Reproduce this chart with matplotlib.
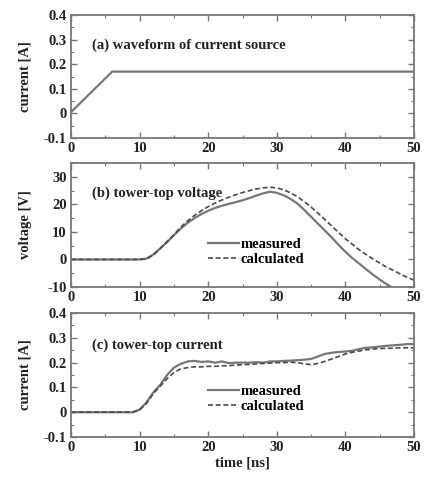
import matplotlib
matplotlib.use("Agg")
import matplotlib.pyplot as plt
import numpy as np
from matplotlib.ticker import MultipleLocator

plt.rcParams["font.family"] = ["Liberation Serif", "DejaVu Serif"]
plt.rcParams["font.weight"] = "bold"
plt.rcParams["axes.labelweight"] = "bold"
plt.rcParams["axes.unicode_minus"] = False
plt.rcParams["font.size"] = 10.5

# (a) source waveform
src_t = [0, 6, 50]
src_i = [0.005, 0.17, 0.17]

# (b) tower-top voltage, 1 ns steps
t_b = np.arange(0, 51, 1)
v_meas = [0, 0, 0, 0, 0, 0, 0, 0, 0, 0, 0, 0.3, 1.8, 4, 6.3, 8.8, 11.2, 13.3, 15, 16.5,
          17.7, 18.7, 19.5, 20.2, 20.8, 21.5, 22.3, 23.2, 24.0, 24.6, 24.2, 23.3, 22.0,
          20.3, 18, 15.5, 13, 10.5, 8, 5.3, 2.8, 0.5, -1.5, -3.5, -5.5, -7.3, -9, -10.5,
          -12, -13.5, -15]
v_calc = [0, 0, 0, 0, 0, 0, 0, 0, 0, 0, 0, 0.2, 1.6, 4, 6.5, 9, 11.8, 14, 16, 17.7,
          19.2, 20.5, 21.6, 22.6, 23.5, 24.3, 25.0, 25.6, 26.0, 26.2, 26.0, 25.3, 24.2,
          22.8, 21, 19, 16.8, 14.5, 12.2, 9.8, 7.5, 5.5, 3.5, 1.8, 0.2, -1.3, -2.8, -4,
          -5.3, -6.5, -7.5]

# (c) tower-top current, 1 ns steps
t_c = np.arange(0, 51, 1)
i_meas = [0, 0, 0, 0, 0, 0, 0, 0, 0, 0, 0.01, 0.04, 0.08, 0.11, 0.15, 0.18, 0.195,
          0.205, 0.207, 0.203, 0.205, 0.2, 0.205, 0.198, 0.2, 0.2, 0.2, 0.202, 0.2,
          0.205, 0.205, 0.207, 0.208, 0.21, 0.212, 0.215, 0.225, 0.235, 0.24, 0.243,
          0.245, 0.248, 0.255, 0.26, 0.262, 0.265, 0.268, 0.27, 0.272, 0.275, 0.275]
i_calc = [0, 0, 0, 0, 0, 0, 0, 0, 0, 0, 0.01, 0.035, 0.075, 0.105, 0.135, 0.16, 0.175,
          0.18, 0.183, 0.183, 0.185, 0.185, 0.187, 0.188, 0.19, 0.192, 0.193, 0.195,
          0.197, 0.198, 0.2, 0.2, 0.202, 0.2, 0.195, 0.192, 0.197, 0.205, 0.215, 0.225,
          0.235, 0.242, 0.247, 0.252, 0.255, 0.257, 0.258, 0.258, 0.26, 0.26, 0.26]

gray = "#777777"
dark = "#4a4a4a"
txt = "#222222"

fig = plt.figure(figsize=(4.24, 4.82), dpi=100)
ax_a = fig.add_axes([0.1675, 0.7137, 0.809, 0.255])
ax_b = fig.add_axes([0.1675, 0.4046, 0.809, 0.257])
ax_c = fig.add_axes([0.1675, 0.0934, 0.809, 0.257])


def style(ax, ymaj, ymin):
    ax.set_xlim(0, 50)
    ax.xaxis.set_major_locator(MultipleLocator(10))
    ax.xaxis.set_minor_locator(MultipleLocator(5))
    ax.yaxis.set_major_locator(MultipleLocator(ymaj))
    ax.yaxis.set_minor_locator(MultipleLocator(ymin))
    ax.tick_params(which="both", direction="in", top=True, right=True,
                   color=gray, labelcolor=txt, labelsize=10.5, pad=3)
    ax.tick_params(which="major", length=4, width=1)
    ax.tick_params(which="minor", length=2, width=0.8)
    for s in ax.spines.values():
        s.set_color(gray)
        s.set_linewidth(1.3)
    ax.yaxis.set_label_coords(-0.115, 0.5)


ax_a.plot(src_t, src_i, color=gray, lw=1.6)
ax_a.set_ylim(-0.1, 0.4)
style(ax_a, 0.1, 0.05)
ax_a.set_yticks([-0.1, 0, 0.1, 0.2, 0.3, 0.4])
ax_a.set_yticklabels(["-0.1", "0", "0.1", "0.2", "0.3", "0.4"])
ax_a.set_ylabel("current [A]", color=txt)
ax_a.text(0.06, 0.755, "(a) waveform of current source", transform=ax_a.transAxes,
          va="center", color=txt)

ax_b.plot(t_b, v_meas, color=gray, lw=1.6, label="measured")
ax_b.plot(t_b, v_calc, color=dark, lw=1.2, ls=(0, (3, 1.6)), label="calculated")
ax_b.set_ylim(-10, 35)
style(ax_b, 10, 5)
ax_b.set_ylabel("voltage [V]", color=txt)
ax_b.text(0.06, 0.76, "(b) tower-top voltage", transform=ax_b.transAxes,
          va="center", color=txt)
ax_b.legend(loc="lower left", bbox_to_anchor=(0.37, 0.09), frameon=False,
            handlelength=2.1, handletextpad=0.15, labelspacing=0.1, borderpad=0.2)

ax_c.plot(t_c, i_meas, color=gray, lw=1.6, label="measured")
ax_c.plot(t_c, i_calc, color=dark, lw=1.2, ls=(0, (3, 1.6)), label="calculated")
ax_c.set_ylim(-0.1, 0.4)
style(ax_c, 0.1, 0.05)
ax_c.set_yticks([-0.1, 0, 0.1, 0.2, 0.3, 0.4])
ax_c.set_yticklabels(["-0.1", "0", "0.1", "0.2", "0.3", "0.4"])
ax_c.set_ylabel("current [A]", color=txt)
ax_c.set_xlabel("time [ns]", color=txt, labelpad=2)
ax_c.text(0.06, 0.74, "(c) tower-top current", transform=ax_c.transAxes,
          va="center", color=txt)
ax_c.legend(loc="lower left", bbox_to_anchor=(0.37, 0.11), frameon=False,
            handlelength=2.1, handletextpad=0.15, labelspacing=0.1, borderpad=0.2)

fig.savefig("out.png", dpi=100)
